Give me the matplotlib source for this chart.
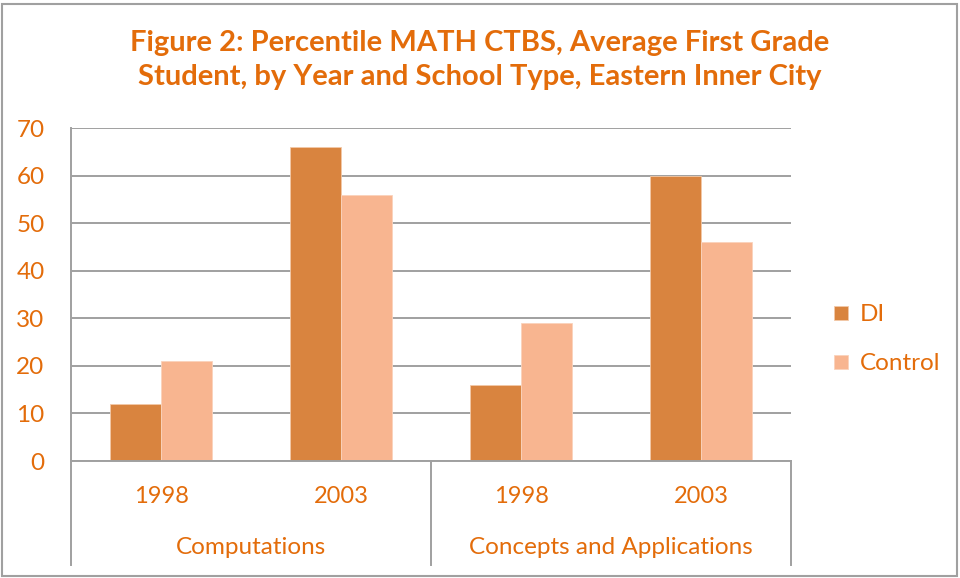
import matplotlib
matplotlib.use('Agg')
import matplotlib.pyplot as plt
from matplotlib.patches import Rectangle
import numpy as np

plt.rcParams['font.family'] = ['Lato', 'DejaVu Sans']

years = ['1998', '2003', '1998', '2003']
groups = ['Computations', 'Concepts and Applications']
di = [12, 66, 16, 60]
control = [21, 56, 29, 46]
series_names = ['DI', 'Control']

orange = '#E36C0A'
di_color = '#D9843F'
ctrl_color = '#F8B590'
grid_color = '#A0A0A0'

fig = plt.figure(figsize=(9.6, 5.78), dpi=100)
ax = fig.add_axes([71 / 960, 1 - 461 / 578, 720 / 960, 333 / 578])

x = np.arange(len(years))
w = 0.285
ax.bar(x - w / 2, di, w, color=di_color, edgecolor='#F3C9A8', linewidth=0.6, label=series_names[0], zorder=3)
ax.bar(x + w / 2, control, w, color=ctrl_color, edgecolor='#FAD3BC', linewidth=0.6, label=series_names[1], zorder=3)

ax.set_xlim(-0.5, len(years) - 0.5)
ax.set_ylim(0, 70)
ax.set_yticks(range(0, 71, 10))
ax.yaxis.grid(True, color=grid_color, linewidth=1.4, zorder=0)
ax.tick_params(axis='y', length=0, pad=19, labelsize=17.5, labelcolor=orange)
ax.set_xticks([])
for s in ['top', 'right', 'bottom']:
    ax.spines[s].set_visible(False)
ax.spines['left'].set_color(grid_color)
ax.spines['left'].set_linewidth(1.4)

# category axis with group separators
tr = ax.get_xaxis_transform()
ax.plot([-0.5, len(years) - 0.5], [0, 0], color=grid_color, lw=1.4, transform=tr, clip_on=False, zorder=4)
for sx in [-0.5, 1.5, 3.5]:
    ax.plot([sx, sx], [0, -0.312], color=grid_color, lw=1.4, transform=tr, clip_on=False)
for xi, yr in zip(x, years):
    ax.text(xi, -0.108, yr, transform=tr, ha='center', va='center', fontsize=17, color=orange)
for gi, g in enumerate(groups):
    ax.text(gi * 2 + 0.5, -0.26, g, transform=tr, ha='center', va='center', fontsize=17.5, color=orange)

leg = ax.legend(loc='center left', bbox_to_anchor=(1.03, 0.365), frameon=False, fontsize=17.5,
                handlelength=0.55, handleheight=0.55, handletextpad=0.5, labelspacing=1.15)
for t in leg.get_texts():
    t.set_color(orange)

fig.text(0.5, 1 - 60 / 578, 'Figure 2: Percentile MATH CTBS, Average First Grade\nStudent, by Year and School Type, Eastern Inner City',
         ha='center', va='center', fontsize=21, fontweight='bold', color=orange, linespacing=1.38)

fig.patches.append(Rectangle((2 / 960, 2 / 578), 955 / 960, 572 / 578, transform=fig.transFigure,
                             fill=False, edgecolor='#A0A0A0', linewidth=1.5))

fig.savefig('out.png', dpi=100)
